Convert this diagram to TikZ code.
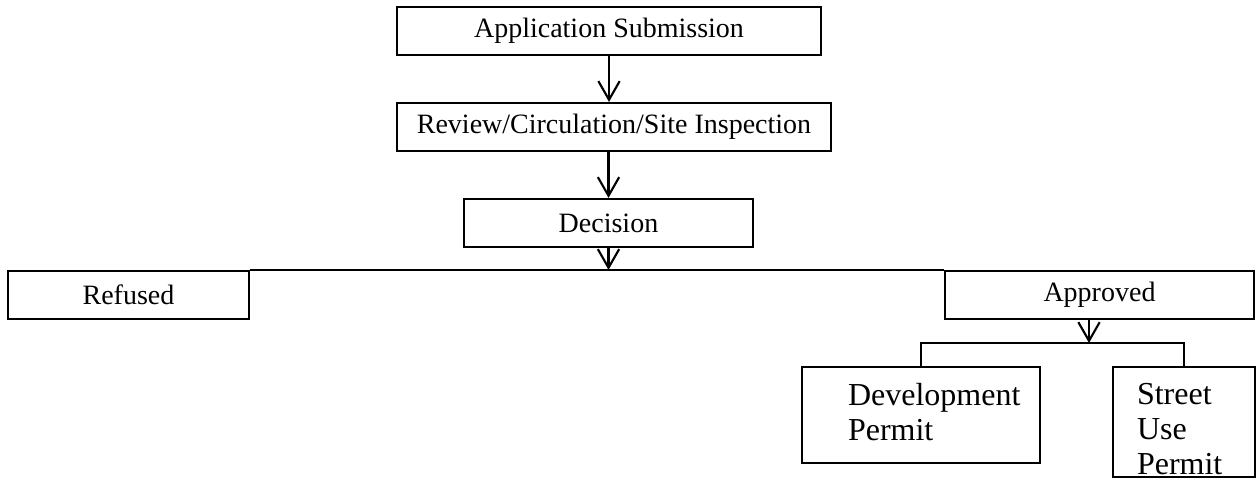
\documentclass[tikz,border=0pt]{standalone}
\usepackage{fontspec}
\setmainfont{Liberation Serif}
\usetikzlibrary{arrows.meta}
\tikzset{
  stepbox/.style={draw, rectangle, line width=1.6pt, minimum height=36pt, inner sep=0pt,
    font=\fontsize{21pt}{25pt}\selectfont},
  permitbox/.style={stepbox, align=left, inner xsep=0pt,
    font=\fontsize{24pt}{26.25pt}\selectfont},
  flow/.style={line width=1.6pt},
  down/.style={flow, -{Straight Barb[length=14pt,width=16pt]}}
}
\begin{document}
\begin{tikzpicture}[x=0.75pt, y=-0.75pt]
  \useasboundingbox (0,0) rectangle (1259,488);
  % main steps
  \node[stepbox, minimum width=318pt] (app) at (609,31) {Application Submission};
  \node[stepbox, minimum width=325.5pt] (rev) at (614,127) {Review/Circulation/Site Inspection};
  \node[stepbox, minimum width=216.75pt] (dec) at (608.5,223) {Decision};
  % outcomes
  \node[stepbox, minimum width=180.75pt] (ref) at (128.5,295) {Refused};
  \node[stepbox, minimum width=231.75pt] (appr) at (1099.5,295) {Approved};
  \node[permitbox, text width=178.5pt, minimum height=72pt] (dev) at (921,415)
    {\hspace*{34.5pt}Development\\\hspace*{34.5pt}Permit\rule[-4pt]{0pt}{0pt}};
  \node[permitbox, text width=106.5pt, minimum height=82.5pt] (sup) at (1184,422)
    {\hspace*{18pt}\rule{0pt}{27pt}Street\\\hspace*{18pt}Use\\\hspace*{18pt}Permit};
  \coordinate (split) at (1089,343);
  \begin{scope}
    \draw[down] (app.south) -- (app.south |- rev.north);
    \draw[down] (dec.north |- rev.south) -- (dec.north);
    \draw[down] (dec.south) -- (dec.south |- ref.north);
    \draw[flow] (ref.north east) -- (appr.north west);
    \draw[down] (split |- appr.south) -- (split);
    \draw[flow] (dev.north) -- (dev.north |- split) -- (sup.north |- split) -- (sup.north);
  \end{scope}
\end{tikzpicture}
\end{document}
